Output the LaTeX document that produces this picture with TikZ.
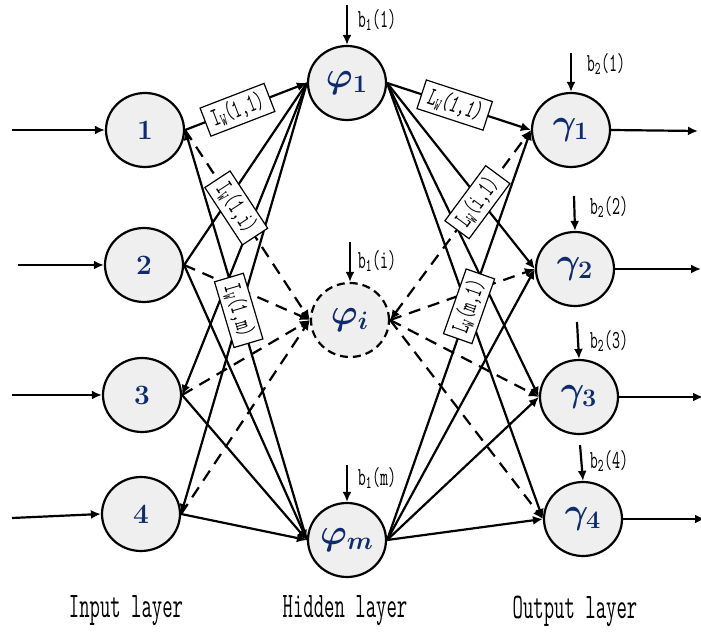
\RequirePackage{fix-cm}
\documentclass[tikz,border=0pt]{standalone}
\usepackage{amsmath,bm}
\usepackage{graphicx}
\usetikzlibrary{arrows.meta,shapes.geometric}
\definecolor{nodeblue}{HTML}{0F2B6B}
\definecolor{nodefill}{HTML}{EFEFEF}
\newcommand{\ctt}[3][0.6]{\scalebox{#1}[1]{\fontsize{#2}{#2}\selectfont\ttfamily #3}}
\tikzset{
  neuron/.style={ellipse, draw, line width=1.1pt, fill=nodefill, minimum width=39pt,
    minimum height=37pt, inner sep=0pt, text=nodeblue},
  wbox/.style={draw, fill=white, line width=0.6pt, inner xsep=3.5pt, inner ysep=2pt, sloped, solid},
  plain/.style={line width=1.1pt},
  conn/.style={-{Latex[length=5pt,width=4.5pt]}, line width=1.1pt},
  dconn/.style={conn, dash pattern=on 6pt off 4pt},
  revconn/.style={{Latex[length=5pt,width=4.5pt]}-, line width=1.1pt},
  bothconn/.style={{Latex[length=5pt,width=4.5pt]}-{Latex[length=5pt,width=4.5pt]}, line width=1.1pt},
  dbothconn/.style={bothconn, dash pattern=on 6pt off 4pt},
  innum/.style={font=\fontsize{14}{14}\selectfont\bfseries},
  hidlbl/.style={font=\fontsize{18}{18}\selectfont}
}
\begin{document}
\begin{tikzpicture}[x=0.5pt,y=-0.5pt]
\useasboundingbox (0,0) rectangle (701,635);
% input nodes
\node[neuron, innum] (in1) at (145,130) {1};
\node[neuron, innum] (in2) at (144,265) {2};
\node[neuron, innum] (in3) at (142,395) {3};
\node[neuron, innum] (in4) at (141,514) {4};
% hidden nodes
\node[neuron, hidlbl] (h1) at (347,83) {$\bm{\varphi_1}$};
\node[neuron, hidlbl, dash pattern=on 4pt off 2.5pt] (hi) at (350,320) {$\bm{\varphi_i}$};
\node[neuron, hidlbl] (hm) at (347,540) {$\bm{\varphi_m}$};
% output nodes
\node[neuron, hidlbl] (o1) at (571,130) {$\bm{\gamma_1}$};
\node[neuron, hidlbl] (o2) at (575,269) {$\bm{\gamma_2}$};
\node[neuron, hidlbl] (o3) at (579,397) {$\bm{\gamma_3}$};
\node[neuron, hidlbl] (o4) at (583,519) {$\bm{\gamma_4}$};
% input arrows
\coordinate (s1) at (12,130);
\coordinate (s2) at (18,265);
\coordinate (s3) at (12,395);
\coordinate (s4) at (12,518);
\draw[conn] (s1) -- (in1.west);
\draw[conn] (s2) -- (in2.west);
\draw[conn] (s3) -- (in3.west);
\draw[conn] (s4) -- (in4.west);
% output arrows
\coordinate (t1) at (698,131);
\coordinate (t2) at (701,269);
\coordinate (t3) at (703,397);
\coordinate (t4) at (705,519);
\draw[conn] (o1.east) -- (t1);
\draw[conn] (o2.east) -- (t2);
\draw[conn] (o3.east) -- (t3);
\draw[conn] (o4.east) -- (t4);
% bias arrows
\coordinate (bh1) at (347,5);
\coordinate (bhi) at (350,242);
\coordinate (bhm) at (347,465);
\coordinate (bo1) at (571,53);
\coordinate (bo2) at (574,196);
\coordinate (bo3) at (577,322);
\coordinate (bo4) at (580,445);
\draw[conn] (bh1) -- (h1.north);
\draw[conn] (bhi) -- (hi.north);
\draw[conn] (bhm) -- (hm.north);
\draw[conn] (bo1) -- (o1.north);
\draw[conn] (bo2) -- (o2.north);
\draw[conn] (bo3) -- (o3.north);
\draw[conn] (bo4) -- (o4.north);
\node (lb1) at (377,20) {\ctt{13}{b\textsubscript{1}(1)}};
\node (lbi) at (377,261) {\ctt{13}{b\textsubscript{1}(i)}};
\node (lbm) at (377,478) {\ctt{13}{b\textsubscript{1}(m)}};
\node (lc1) at (606,64) {\ctt{13}{b\textsubscript{2}(1)}};
\node (lc2) at (609,207) {\ctt{13}{b\textsubscript{2}(2)}};
\node (lc3) at (609,341) {\ctt{13}{b\textsubscript{2}(3)}};
\node (lc4) at (609,461) {\ctt{13}{b\textsubscript{2}(4)}};
% input -> hidden (unlabelled)
\draw[plain] (in2.east) -- (h1.west);
\draw[revconn] (in3.east) -- (h1.west);
\draw[revconn] (in4.east) -- (h1.west);
\draw[dconn] (in2.east) -- (hi.west);
\draw[dconn] (in3.east) -- (hi.west);
\draw[dconn] (in4.east) -- (hi.west);
\draw[conn] (in2.east) -- (hm.west);
\draw[conn] (in3.east) -- (hm.west);
\draw[conn] (in4.east) -- (hm.west);
% hidden -> output (unlabelled)
\draw[conn] (h1.east) -- (o2.west);
\draw[conn] (h1.east) -- (o3.west);
\draw[conn] (h1.east) -- (o4.west);
\draw[dconn] (hi.east) -- (o2.west);
\draw[dconn] (hi.east) -- (o3.west);
\draw[dconn] (hi.east) -- (o4.west);
\draw[conn] (hm.east) -- (o2.west);
\draw[conn] (hm.east) -- (o3.west);
\draw[conn] (hm.east) -- (o4.west);
% labelled connectors (drawn last so boxes stay on top)
\draw[revconn] (in1.east) -- node[wbox, pos=0.44] (w1m) {\ctt{13}{I\textsubscript{W}(1,m)}} (hm.west);
\draw[dconn] (in1.east) -- node[wbox, pos=0.41] (w1i) {\ctt{13}{I\textsubscript{W}(1,i)}} (hi.west);
\draw[conn] (in1.east) -- node[wbox, pos=0.43] (w11) {\ctt{13}{I\textsubscript{W}(1,1)}} (h1.west);
\draw[conn] (hm.east) -- node[wbox, pos=0.57] (vm1) {\ctt{13}{L\textsubscript{W}(m,1)}} (o1.west);
\draw[dbothconn] (hi.east) -- node[wbox, pos=0.62] (vi1) {\ctt{13}{L\textsubscript{W}(i,1)}} (o1.west);
\draw[conn] (h1.east) -- node[wbox, pos=0.47] (v11) {\ctt{13}{\slshape L\textsubscript{W}(1,1)}} (o1.west);
% layer labels
\node (L1) at (126,611) {\ctt[0.56]{18}{Input layer}};
\node (L2) at (345,611) {\ctt[0.56]{18}{Hidden layer}};
\node (L3) at (575,611) {\ctt[0.56]{18}{Output layer}};
\end{tikzpicture}
\end{document}
